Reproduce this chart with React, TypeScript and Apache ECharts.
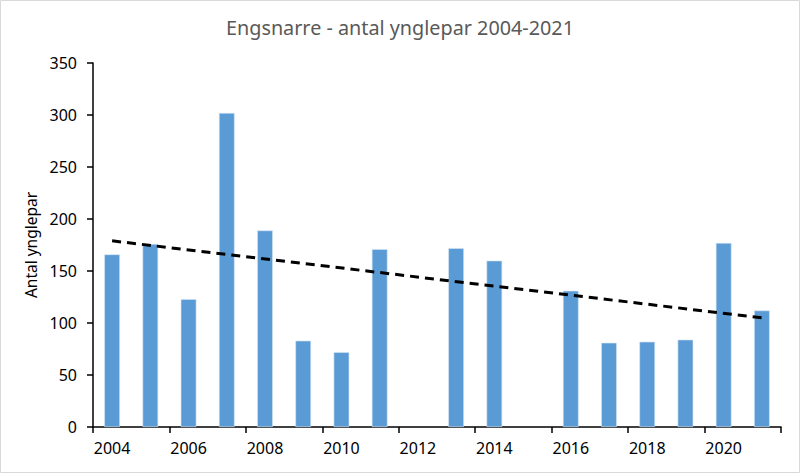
import React, { useEffect, useRef } from "react";
import * as echarts from "echarts";

const years = ["2004","2005","2006","2007","2008","2009","2010","2011","2012","2013","2014","2015","2016","2017","2018","2019","2020","2021"];
const pairs: (number | null)[] = [166, 176, 123, 302, 189, 83, 72, 171, null, 172, 160, null, 131, 81, 82, 84, 177, 112];
const trendStart = 179;
const trendEnd = 105;
const yTicks = { min: 0, max: 350, interval: 50 };
const titleText = "Engsnarre - antal ynglepar 2004-2021";
const yName = "Antal ynglepar";

export default function App() {
  const ref = useRef<HTMLDivElement>(null);
  useEffect(() => {
    if (!ref.current) return;
    const chart = echarts.init(ref.current, null, { renderer: "svg" });
    const trend = years.map((_, i) => (i === 0 ? trendStart : i === years.length - 1 ? trendEnd : null));
    const font = "'Noto Sans', 'Open Sans', sans-serif";
    chart.setOption({
      animation: false,
      backgroundColor: "#ffffff",
      textStyle: { fontFamily: font },
      title: {
        text: titleText,
        left: "center",
        top: 12,
        textStyle: { fontFamily: font, fontSize: 19.8, fontWeight: "normal", color: "#595959" },
      },
      graphic: [
        {
          type: "rect",
          shape: { x: 0.5, y: 0.5, width: 799, height: 472 },
          style: { fill: "none", stroke: "#d9d9d9", lineWidth: 1 },
          silent: true,
        },
      ],
      grid: { left: 93, right: 19, top: 63, bottom: 46, containLabel: false },
      xAxis: {
        type: "category",
        data: years,
        boundaryGap: true,
        axisLine: { show: true, lineStyle: { color: "#000000", width: 1.5 } },
        axisTick: { show: true, alignWithLabel: false, length: 6, lineStyle: { color: "#000000", width: 1.5 } },
        axisLabel: { interval: 1, color: "#000000", fontSize: 16, fontFamily: font, margin: 13 },
        splitLine: { show: false },
      },
      yAxis: {
        type: "value",
        min: yTicks.min,
        max: yTicks.max,
        interval: yTicks.interval,
        name: yName,
        nameLocation: "middle",
        nameGap: 53,
        nameRotate: 90,
        nameTextStyle: { color: "#000000", fontSize: 15.5, fontFamily: font },
        axisLine: { show: true, lineStyle: { color: "#000000", width: 1.5 } },
        axisTick: { show: true, length: 6, lineStyle: { color: "#000000", width: 1.5 } },
        axisLabel: { color: "#000000", fontSize: 16, fontFamily: font, margin: 16 },
        splitLine: { show: false },
      },
      series: [
        {
          type: "bar",
          data: pairs,
          barWidth: "41%",
          itemStyle: { color: "#5b9bd5", borderColor: "#d6e6f5", borderWidth: 0.6 },
        },
        {
          type: "line",
          data: trend,
          connectNulls: true,
          symbol: "none",
          lineStyle: { color: "#000000", width: 3, type: [9, 6] },
          z: 5,
        },
      ],
    });
    return () => chart.dispose();
  }, []);
  return <div ref={ref} style={{ position: "fixed", left: 0, top: 0, width: 800, height: 473 }} />;
}
